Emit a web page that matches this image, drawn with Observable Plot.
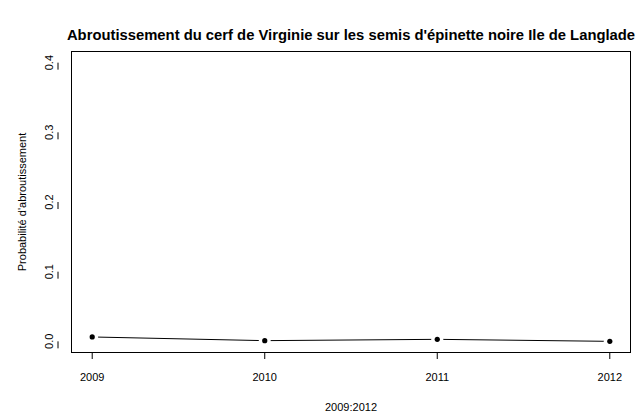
<!DOCTYPE html>
<html><head><meta charset="utf-8">
<script src="https://cdn.jsdelivr.net/npm/d3@7"></script>
<script src="https://cdn.jsdelivr.net/npm/@observablehq/plot@0.6"></script>
<style>body{margin:0;background:#fff;} svg{font-family:"Liberation Sans",Arial,sans-serif;}</style>
</head><body><div id="chart"></div>
<script>
const years = [2009, 2010, 2011, 2012];
const prob = [0.0063, 0.001, 0.0029, 0.0];
const yTicks = [0, 0.1, 0.2, 0.3, 0.4];
const title = "Abroutissement du cerf de Virginie sur les semis d'épinette noire Ile de Langlade";
const xLabel = "2009:2012";
const yLabel = "Probabilité d'abroutissement";

const data = years.map((y, i) => ({year: y, p: prob[i]}));

const chart = Plot.plot({
  width: 641, height: 417,
  marginLeft: 71, marginRight: 11, marginTop: 51, marginBottom: 65,
  style: {fontFamily: "Liberation Sans, Arial, sans-serif", background: "white", color: "black"},
  x: {domain: [2009 - 0.12, 2012 + 0.12]},
  y: {domain: [-0.016, 0.416]},
  marks: [
    Plot.frame({stroke: "black", strokeWidth: 1}),
    Plot.axisX(years, {tickSize: 7, tickPadding: 14, fontSize: 11, tickFormat: d => String(d), label: null}),
    Plot.text([xLabel], {frameAnchor: "bottom", dy: 58, fontSize: 11}),
    Plot.axisY(yTicks, {tickSize: 7, tickPadding: 2, fontSize: 11, rotate: -90, textAnchor: "middle", dx: -13, tickFormat: d => d.toFixed(1), label: null}),
    Plot.text([yLabel], {frameAnchor: "left", textAnchor: "middle", dx: -49, rotate: -90, fontSize: 11}),
    Plot.text([title], {frameAnchor: "top", dy: -22, fontSize: 14.8, fontWeight: "bold"}),
    Plot.line(data, {x: "year", y: "p", stroke: "black", strokeWidth: 1}),
    Plot.dot(data, {x: "year", y: "p", r: 6, fill: "white", stroke: "none"}),
    Plot.dot(data, {x: "year", y: "p", r: 2.6, fill: "black", stroke: "none"})
  ]
});
document.getElementById("chart").append(chart);
</script></body></html>
